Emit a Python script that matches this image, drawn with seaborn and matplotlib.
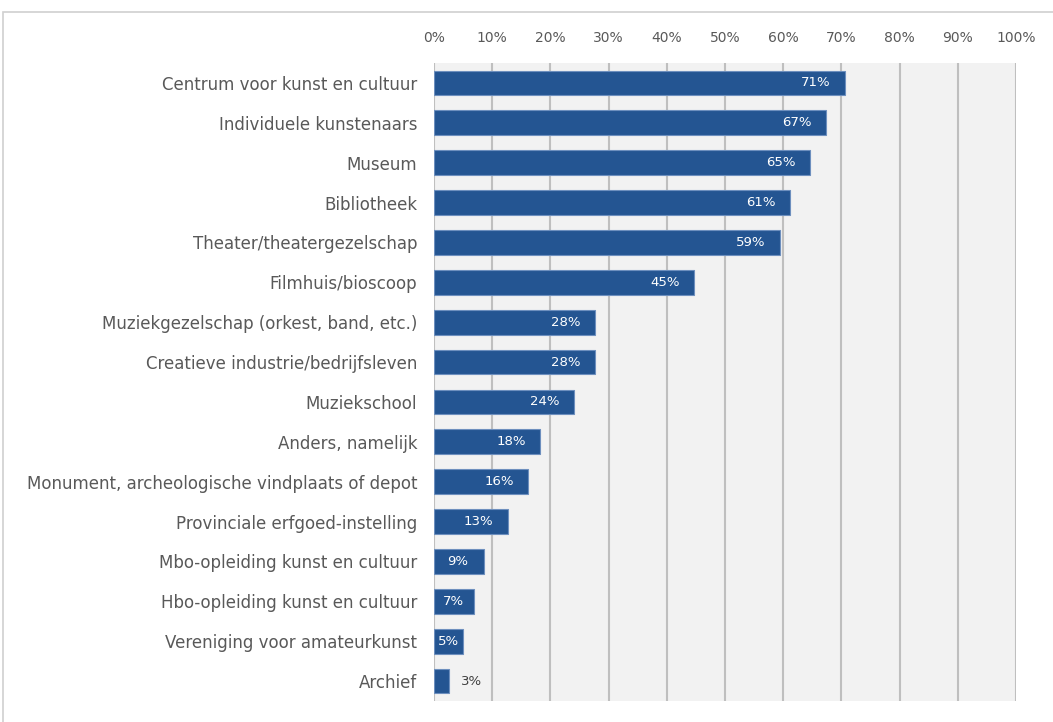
import pandas as pd
import matplotlib
matplotlib.use("Agg")
import matplotlib.pyplot as plt
import seaborn as sns
from matplotlib.patches import Rectangle

# Categorieën en percentages
categorieen = [
    "Centrum voor kunst en cultuur",
    "Individuele kunstenaars",
    "Museum",
    "Bibliotheek",
    "Theater/theatergezelschap",
    "Filmhuis/bioscoop",
    "Muziekgezelschap (orkest, band, etc.)",
    "Creatieve industrie/bedrijfsleven",
    "Muziekschool",
    "Anders, namelijk",
    "Monument, archeologische vindplaats of depot",
    "Provinciale erfgoed-instelling",
    "Mbo-opleiding kunst en cultuur",
    "Hbo-opleiding kunst en cultuur",
    "Vereniging voor amateurkunst",
    "Archief",
]
percentages = [70.6, 67.4, 64.6, 61.2, 59.4, 44.7, 27.6, 27.6, 24.1, 18.2, 16.2, 12.7, 8.6, 6.8, 5.0, 2.6]
x_ticks = [0, 10, 20, 30, 40, 50, 60, 70, 80, 90, 100]

df = pd.DataFrame({"Categorie": categorieen, "Percentage": percentages})

sns.set_style("white")
plt.rcParams["font.family"] = ["DejaVu Sans"]

fig = plt.figure(figsize=(10.53, 7.22), dpi=100)
ax = fig.add_axes([434 / 1053, 1 - 701 / 722, 582 / 1053, 638 / 722])
ax.set_facecolor("#f2f2f2")

# Kader rond de figuur (alleen boven en links zichtbaar)
fig.patches.append(Rectangle((3 / 1053, -0.1), 1.2, 1.1 - 12 / 722, transform=fig.transFigure,
                             fill=False, edgecolor="#d0d0d0", linewidth=1.2))

sns.barplot(data=df, x="Percentage", y="Categorie", orient="h", color="#245592",
            width=0.62, edgecolor="#6d8fbe", linewidth=0.8, saturation=1, ax=ax, zorder=3)

# Labels bij de balken
for i, v in enumerate(percentages):
    tekst = f"{round(v)}%"
    if v < 4:
        ax.text(v + 3.8, i, tekst, ha="center", va="center", fontsize=9.5, color="#404040", zorder=4)
    else:
        c = max(v - 5.0, min(4.1, v / 2))
        ax.text(c, i, tekst, ha="center", va="center", fontsize=9.5, color="white", zorder=4)

ax.set_xlim(0, 100)
ax.set_ylim(15.5, -0.5)
ax.set_xticks(x_ticks)
ax.set_xticklabels([f"{t}%" for t in x_ticks])
ax.xaxis.tick_top()
ax.tick_params(axis="x", length=0, pad=13, labelsize=10, labelcolor="#595959")
ax.tick_params(axis="y", length=0, pad=12, labelsize=12, labelcolor="#595959")
ax.set_xlabel("")
ax.set_ylabel("")
ax.grid(True, axis="x", color="#bfbfbf", linewidth=1.5, zorder=1)
ax.set_axisbelow(True)
for s in ax.spines.values():
    s.set_visible(False)

plt.savefig("out.png", dpi=100)
